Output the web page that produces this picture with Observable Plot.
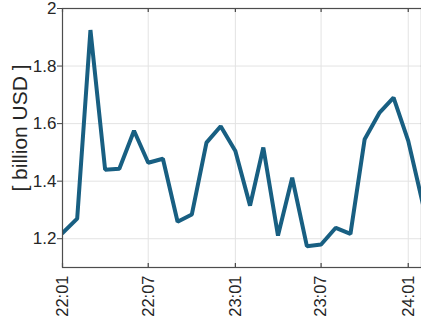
<!DOCTYPE html>
<html>
<head>
<meta charset="utf-8">
<script src="https://cdn.jsdelivr.net/npm/d3@7"></script>
<script src="https://cdn.jsdelivr.net/npm/@observablehq/plot@0.6"></script>
<style>
  html, body { margin: 0; padding: 0; background: #fff; }
  #chart svg { display: block; }
</style>
</head>
<body>
<div id="chart"></div>
<script>
// Monthly values, 2022-01 .. 2024-02 (billion USD)
const months = [
  "2022-01","2022-02","2022-03","2022-04","2022-05","2022-06",
  "2022-07","2022-08","2022-09","2022-10","2022-11","2022-12",
  "2023-01","2023-02","2023-03","2023-04","2023-05","2023-06",
  "2023-07","2023-08","2023-09","2023-10","2023-11","2023-12",
  "2024-01","2024-02"
];
const values = [
  1.22, 1.27, 1.925, 1.44, 1.443, 1.575,
  1.464, 1.478, 1.259, 1.284, 1.534, 1.591,
  1.505, 1.315, 1.517, 1.211, 1.412, 1.174,
  1.180, 1.238, 1.217, 1.546, 1.637, 1.69,
  1.54, 1.32
];
const xTicks = ["2022-01","2022-07","2023-01","2023-07","2024-01"];
const yTicks = [1.2, 1.4, 1.6, 1.8, 2.0];
const yLabel = "[ billion USD ]";

const parse = d3.utcParse("%Y-%m");
const data = months.map((m, i) => ({date: parse(m), value: values[i]}));
const xTickDates = xTicks.map(parse);
const yDomain = [1.1, 2.0];
const xDomain = [parse("2022-01"), new Date(Date.UTC(2024, 0, 29))];
const tickLen = 0.014;

const chart = Plot.plot({
  width: 421,
  height: 322,
  marginLeft: 62,
  marginTop: 8,
  marginBottom: 55,
  marginRight: 0,
  style: {fontFamily: "'Liberation Sans', Arial, sans-serif", fontSize: "16px", color: "#262626", background: "#fff"},
  x: {type: "utc", domain: xDomain},
  y: {domain: yDomain},
  marks: [
    Plot.ruleY(yTicks, {stroke: "#e3e3e3", strokeWidth: 1}),
    Plot.ruleX(xTickDates, {stroke: "#e3e3e3", strokeWidth: 1}),
    Plot.line(data, {x: "date", y: "value", stroke: "#185f82", strokeWidth: 4, strokeLinejoin: "miter", clip: true}),
    Plot.ruleX(xTickDates, {y1: yDomain[0], y2: yDomain[0] + tickLen, stroke: "#444", strokeWidth: 1.2}),
    Plot.ruleX(xTickDates, {y1: yDomain[1] - tickLen, y2: yDomain[1], stroke: "#444", strokeWidth: 1.2}),
    Plot.frame({stroke: "#4d4d4d", strokeWidth: 1.2}),
    Plot.axisY(yTicks, {
      tickSize: 5, tickPadding: 1, stroke: "#444",
      tickFormat: d => d3.format("~g")(d), fontSize: 17, fill: "#262626",
      label: null
    }),
    Plot.axisX(xTickDates, {
      tickSize: 0, tickPadding: 8, tickRotate: -90,
      tickFormat: d3.utcFormat("%y:%m"), fontSize: 16.5, fill: "#262626",
      label: null
    }),
    Plot.text([yLabel], {
      frameAnchor: "left", dx: -42, dy: -10, rotate: -90, textAnchor: "middle",
      text: d => d, fontSize: 21, fill: "#262626"
    })
  ]
});
document.getElementById("chart").appendChild(chart);
</script>
</body>
</html>
